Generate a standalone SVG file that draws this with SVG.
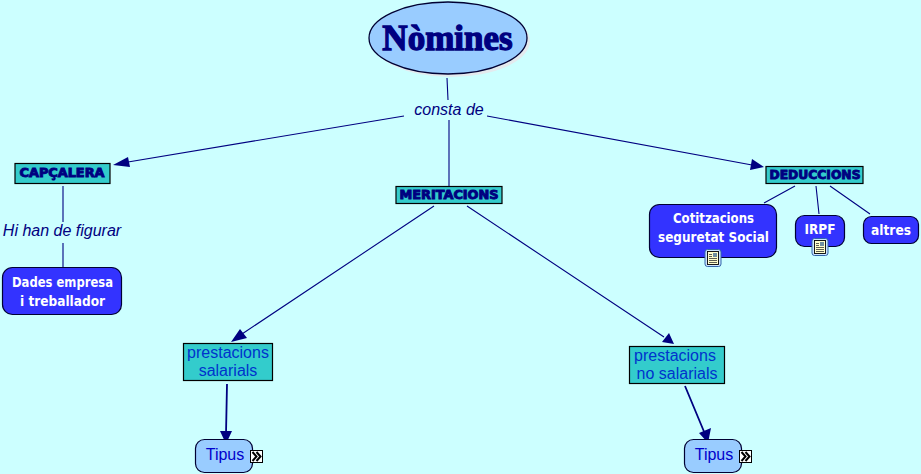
<svg xmlns="http://www.w3.org/2000/svg" width="921" height="474" viewBox="0 0 921 474">
<style>
.c{fill:none;stroke:#000080;stroke-width:1.1}
.h{fill:#000080}
.t{fill:#33CCCC;stroke:#000;stroke-width:1.2}
.b{fill:#3333FF;stroke:#000033;stroke-width:1.2}
.l{fill:#99CCFF;stroke:#000033;stroke-width:1.2}
.v{font:900 11.5px "DejaVu Sans",sans-serif;fill:#000080;stroke:#000080;stroke-width:.9;text-anchor:middle}
.w{font:bold 13.5px "DejaVu Sans",sans-serif;fill:#fff;text-anchor:middle}
.a{font:16px "Liberation Sans",Arial,sans-serif;fill:#0033CC;text-anchor:middle}
.i{font:italic 16px "Liberation Sans",Arial,sans-serif;fill:#000080;text-anchor:middle}
.p{font:16px "Liberation Sans",Arial,sans-serif;fill:#0000CC;text-anchor:middle}
</style>
<defs>
<g id="doc"><rect x="-8" y="-8.500" width="16" height="17" rx="2.500" fill="#CCE5FF" stroke="#3366AA"/><rect x="-5.500" y="-6.500" width="11" height="13" fill="#FFFFCC" stroke="#000" stroke-width=".9"/><path d="M-4-3.500h3M-4-1.500h3M-4 .5h8M-4 2.500h8M-4 4.500h8" stroke="#333" stroke-width=".8"/><rect x="0" y="-5" width="4" height="4" fill="#6F8FA0"/></g>
<g id="more"><rect x="-6" y="-6" width="12" height="12" fill="#fff" stroke="#000"/><path d="M-4-4.500 0 0-4 4.500M0-4.500 4 0 0 4.500" fill="none" stroke="#000" stroke-width="2"/></g>
</defs>
<rect width="921" height="474" fill="#CCFFFF"/>
<g id="connectors">
<path class="c" d="M447 78 448 100M449 120 449 186M404 116 128 162M487 116 752 165"/>
<path class="h" d="M113 165 128 157 130 167ZM764 167 752 159 750 170Z"/>
<path class="c" d="M63 186V222M63 243V267"/>
<path class="c" d="M795 186 764 203M816 186 819 214M830 186 870 214"/>
<path class="c" d="M434 206 242 334M467 206 664 337"/>
<path class="h" d="M231 342 240 329 247 338ZM674 344 662 342 669 333Z"/>
<path class="c" style="stroke-width:1.800" d="M227 384 226 434M685 386 705 434"/>
<path class="h" d="M226 444 220 431 232 431ZM708 443 699 433 711 428Z"/>
</g>
<g id="n-nomines"><ellipse cx="451" cy="41" rx="79" ry="36" fill="#E4EAEE"/><ellipse cx="448" cy="38" rx="79" ry="36" fill="#99CCFF" stroke="#000033" stroke-width="1.300"/><text x="447.500" y="50" style="font:bold 35px 'Liberation Serif',serif;fill:#000080;stroke:#000080;stroke-width:1.300;text-anchor:middle">Nòmines</text></g>
<g id="n-consta"><text class="i" x="449" y="115">consta de</text></g>
<g id="n-capcalera"><rect class="t" x="15" y="163.500" width="95" height="20"/><text class="v" x="62" y="177" textLength="85" lengthAdjust="spacingAndGlyphs">CAPÇALERA</text></g>
<g id="n-meritacions"><rect class="t" x="396" y="186.500" width="106" height="17"/><text class="v" x="449" y="199" textLength="99" lengthAdjust="spacingAndGlyphs">MERITACIONS</text></g>
<g id="n-deduccions"><rect class="t" x="766" y="166.500" width="97" height="17"/><text class="v" x="815" y="179" textLength="91" lengthAdjust="spacingAndGlyphs">DEDUCCIONS</text></g>
<g id="n-cotitzacions"><rect class="b" x="649.500" y="204.500" width="127" height="53" rx="10"/><text class="w" x="713.500" y="223" textLength="81" lengthAdjust="spacingAndGlyphs">Cotitzacions</text><text class="w" x="713.500" y="242" textLength="111" lengthAdjust="spacingAndGlyphs">seguretat Social</text><use href="#doc" x="713" y="258"/></g>
<g id="n-irpf"><rect class="b" x="795.500" y="215.500" width="49" height="31" rx="9"/><text class="w" x="820" y="234" textLength="31" lengthAdjust="spacingAndGlyphs">IRPF</text><use href="#doc" x="820" y="247"/></g>
<g id="n-altres"><rect class="b" x="863.500" y="216.500" width="55" height="27" rx="8"/><text class="w" x="891" y="235" textLength="40" lengthAdjust="spacingAndGlyphs">altres</text></g>
<g id="n-figurar"><text class="i" x="62" y="236">Hi han de figurar</text></g>
<g id="n-dades"><rect class="b" x="2.500" y="267.500" width="119" height="47" rx="10"/><text class="w" x="62.500" y="287" textLength="101" lengthAdjust="spacingAndGlyphs">Dades empresa</text><text class="w" x="62.500" y="306" textLength="85" lengthAdjust="spacingAndGlyphs">i treballador</text></g>
<g id="n-salarials"><rect class="t" x="183.500" y="343.500" width="89" height="37"/><text class="a" x="228" y="358">prestacions</text><text class="a" x="228" y="376">salarials</text></g>
<g id="n-nosalarials"><rect class="t" x="629.500" y="346.500" width="95" height="37"/><text class="a" x="675" y="361">prestacions</text><text class="a" x="677" y="379">no salarials</text></g>
<g id="n-tipus1"><rect class="l" x="195.500" y="439.500" width="57" height="33" rx="9"/><text class="p" x="225" y="460">Tipus</text><use href="#more" x="256.500" y="456.500"/></g>
<g id="n-tipus2"><rect class="l" x="684.500" y="439.500" width="57" height="33" rx="9"/><text class="p" x="714" y="460">Tipus</text><use href="#more" x="745.500" y="456.500"/></g>
</svg>
